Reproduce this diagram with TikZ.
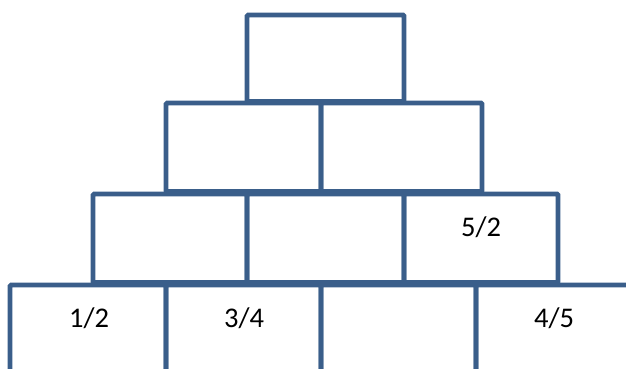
\documentclass[tikz,border=0pt]{standalone}
\usepackage{fontspec}
\setmainfont{Carlito}
\definecolor{brickblue}{RGB}{58,94,138}
\begin{document}
\begin{tikzpicture}[x=1pt,y=-1pt,
  brick/.style={draw=brickblue, line width=4.6pt, rectangle, inner sep=0pt, outer sep=0pt, anchor=north west, rounded corners=1pt, minimum height=#1},
  brick/.default=87pt,
  lbl/.style={font=\fontsize{28.5}{33}\selectfont, text=black}]
\useasboundingbox (0,0) rectangle (626,369);
\clip (0,0) rectangle (626,369);
% row 1
\node[brick=86.5pt, minimum width=157pt] (r1a) at (247,15) {};
% row 2
\node[brick=88.5pt, minimum width=155pt] (r2a) at (166,103) {};
\node[brick=88.5pt, minimum width=161pt] (r2b) at (321,103) {};
% row 3
\node[brick=88.5pt, minimum width=154pt] (r3a) at (93,194) {};
\node[brick=88.5pt, minimum width=157pt] (r3b) at (247,194) {};
\node[brick=88.5pt, minimum width=154pt] (r3c) at (404,194) {};
% row 4
\node[brick=100pt, minimum width=156pt] (r4a) at (10,285) {};
\node[brick=100pt, minimum width=155pt] (r4b) at (166,285) {};
\node[brick=100pt, minimum width=155pt] (r4c) at (321,285) {};
\node[brick=100pt, minimum width=170pt] (r4d) at (476,285) {};
% labels
\node[lbl] (t52) at (481,227) {5/2};
\node[lbl] (t12) at (89,318) {1/2};
\node[lbl] (t34) at (244,318) {3/4};
\node[lbl] (t45) at (554,318) {4/5};
\end{tikzpicture}
\end{document}
